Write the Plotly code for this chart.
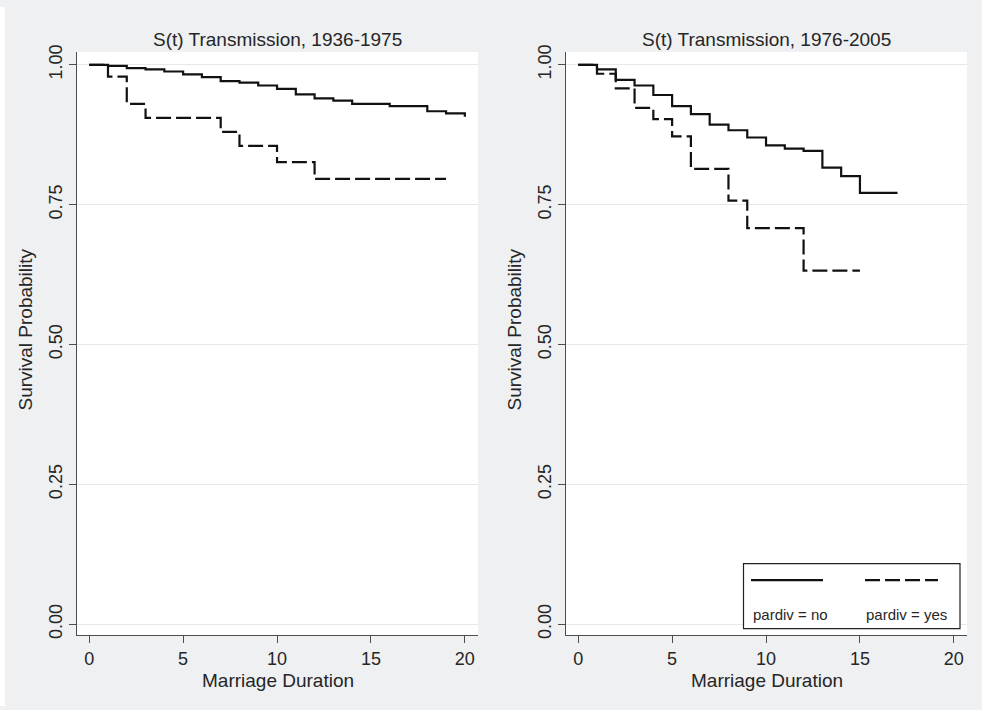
import plotly.graph_objects as go

# Kaplan-Meier survival estimates by parental divorce (pardiv), two marriage cohorts
cohort_titles = ["S(t) Transmission, 1936-1975", "S(t) Transmission, 1976-2005"]

# 1936-1975 cohort
early_no_t = [0, 1, 2, 3, 4, 5, 6, 7, 8, 9, 10, 11, 12, 13, 14, 16, 18, 19, 20]
early_no_s = [1.000, 0.998, 0.994, 0.992, 0.988, 0.983, 0.978, 0.971, 0.968, 0.963,
              0.957, 0.947, 0.940, 0.936, 0.930, 0.926, 0.917, 0.913, 0.907]
early_yes_t = [0, 1, 2, 3, 7, 8, 10, 12, 19]
early_yes_s = [1.000, 0.979, 0.930, 0.905, 0.880, 0.855, 0.826, 0.796, 0.796]

# 1976-2005 cohort
late_no_t = [0, 1, 2, 3, 4, 5, 6, 7, 8, 9, 10, 11, 12, 13, 14, 15, 17]
late_no_s = [1.000, 0.992, 0.973, 0.963, 0.946, 0.926, 0.912, 0.893, 0.883, 0.870,
             0.856, 0.850, 0.846, 0.816, 0.801, 0.771, 0.771]
late_yes_t = [0, 1, 2, 3, 4, 5, 6, 8, 9, 12, 15]
late_yes_s = [1.000, 0.984, 0.958, 0.923, 0.903, 0.872, 0.814, 0.757, 0.708, 0.632, 0.632]

x_ticks = [0, 5, 10, 15, 20]
y_ticks = [0.0, 0.25, 0.5, 0.75, 1.0]
y_tick_text = ["0.00", "0.25", "0.50", "0.75", "1.00"]
legend_labels = ["pardiv = no", "pardiv = yes"]
x_title = "Marriage Duration"
y_title = "Survival Probability"

W, H = 982, 710
FONT = "Liberation Sans, Arial, sans-serif"
TXT = "#262626"
AXC = "#4d4d4d"
BG = "#eff0f2"
DASH = "15px,5px"

# vertical placement: graph region begins 5px below the page top, 700px tall
Y_OFF, Y_SPAN = 5, 700


def px(x):
    return x / W


def py(y):
    return 1 - (y - Y_OFF) / Y_SPAN


panels = [(77, 478), (566, 967)]
top, bottom = 50, 634

fig = go.Figure()

series = [
    (early_no_t, early_no_s, "solid", "x", "y"),
    (early_yes_t, early_yes_s, DASH, "x", "y"),
    (late_no_t, late_no_s, "solid", "x2", "y2"),
    (late_yes_t, late_yes_s, DASH, "x2", "y2"),
]
for t, s, dash, xa, ya in series:
    fig.add_trace(go.Scatter(
        x=t, y=s, mode="lines", line_shape="hv",
        line=dict(color="#111111", width=2.2, dash=dash),
        xaxis=xa, yaxis=ya, showlegend=False, hoverinfo="skip",
    ))

axis_common = dict(
    showline=True, linecolor=AXC, linewidth=1.3,
    ticks="outside", ticklen=7, tickwidth=1.2, tickcolor=AXC,
    tickfont=dict(family=FONT, size=18, color=TXT),
    zeroline=False, mirror=False,
)

layout = dict(
    width=W, height=H,
    margin=dict(l=0, r=0, t=0, b=0),
    paper_bgcolor=BG, plot_bgcolor="white",
    showlegend=False,
    font=dict(family=FONT, color=TXT),
)

for i, (x0, x1) in enumerate(panels):
    sfx = "" if i == 0 else str(i + 1)
    layout["xaxis" + sfx] = dict(
        axis_common, domain=[px(x0), px(x1)], range=[-0.65, 20.7],
        tickvals=x_ticks, showgrid=False,
        anchor="y" + sfx,
    )
    layout["yaxis" + sfx] = dict(
        axis_common, domain=[py(bottom), py(top)], range=[-0.0196, 1.023],
        tickvals=y_ticks, ticktext=y_tick_text, tickangle=-90,
        showgrid=True, gridcolor="#e8e8e8", gridwidth=1,
        anchor="x" + sfx,
    )

fig.update_layout(**layout)

annotations = []
for i, (x0, x1) in enumerate(panels):
    cx = (x0 + x1) / 2
    annotations.append(dict(
        text=cohort_titles[i], x=px(cx), y=py(38), xref="paper", yref="paper",
        xanchor="center", yanchor="middle", showarrow=False,
        font=dict(family=FONT, size=19, color=TXT),
    ))
    annotations.append(dict(
        text=x_title, x=px(cx), y=py(679), xref="paper", yref="paper",
        xanchor="center", yanchor="middle", showarrow=False,
        font=dict(family=FONT, size=19, color=TXT),
    ))
    annotations.append(dict(
        text=y_title, x=px(x0 - 51), y=py(328), xref="paper", yref="paper",
        xanchor="center", yanchor="middle", textangle=-90, showarrow=False,
        font=dict(family=FONT, size=19, color=TXT),
    ))

# legend box inside the right panel
annotations.append(dict(
    text=legend_labels[0], x=px(751), y=py(613), xref="paper", yref="paper",
    xanchor="left", yanchor="middle", showarrow=False,
    font=dict(family=FONT, size=15, color=TXT),
))
annotations.append(dict(
    text=legend_labels[1], x=px(864), y=py(613), xref="paper", yref="paper",
    xanchor="left", yanchor="middle", showarrow=False,
    font=dict(family=FONT, size=15, color=TXT),
))

shapes = [
    # thin white strip along the left page edge
    dict(type="rect", xref="paper", yref="paper", x0=0, x1=px(5), y0=0, y1=1,
         fillcolor="white", line=dict(width=0), layer="below"),
    dict(type="rect", xref="paper", yref="paper", x0=px(743.5), x1=px(960), y0=py(627.5), y1=py(562.5),
         fillcolor="white", line=dict(color="#222222", width=1.2), layer="above"),
    dict(type="line", xref="paper", yref="paper", x0=px(751), x1=px(823), y0=py(579), y1=py(579),
         line=dict(color="#111111", width=2.2), layer="above"),
    dict(type="line", xref="paper", yref="paper", x0=px(865), x1=px(938), y0=py(579), y1=py(579),
         line=dict(color="#111111", width=2.2, dash=DASH), layer="above"),
]

fig.update_layout(annotations=annotations, shapes=shapes)
fig.write_html("out.html")
